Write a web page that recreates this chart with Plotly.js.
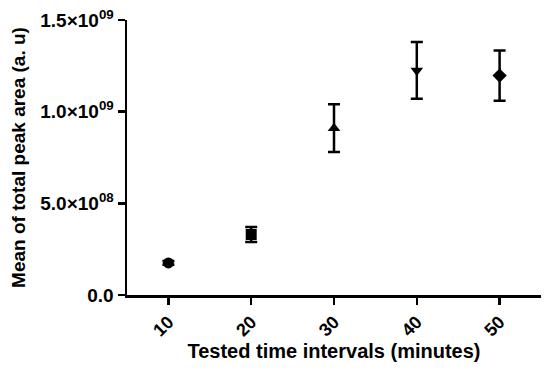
<!DOCTYPE html>
<html>
<head>
<meta charset="utf-8">
<script src="https://cdn.plot.ly/plotly-3.0.1.min.js"></script>
<style>html,body{margin:0;padding:0;background:#fff;}#chart{width:550px;height:371px;}</style>
</head>
<body>
<div id="chart"></div>
<script>
const intervals = [10, 20, 30, 40, 50];
const meanArea = [1.75e8, 3.3e8, 9.1e8, 1.225e9, 1.197e9];
const errArea = [1.0e7, 4.1e7, 1.3e8, 1.55e8, 1.37e8];
const symbols = ['circle', 'square', 'triangle-up', 'triangle-down', 'diamond'];
const yTickVals = [0, 5e8, 1e9, 1.5e9];
const yTickText = ['0.0', '5.0×10<sup>08</sup>', '1.0×10<sup>09</sup>', '1.5×10<sup>09</sup>'];
const xTickVals = [10, 20, 30, 40, 50];

const font = 'Liberation Sans, Arial, sans-serif';
const trace = {
  x: intervals, y: meanArea, type: 'scatter', mode: 'markers',
  marker: {symbol: symbols, size: 11, color: '#000'},
  error_y: {type: 'data', array: errArea, visible: true, color: '#000', thickness: 2.5, width: 6},
  showlegend: false
};
const layout = {
  width: 550, height: 371,
  margin: {l: 127, r: 9, t: 20, b: 76},
  paper_bgcolor: '#fff', plot_bgcolor: '#fff',
  font: {family: font, color: '#000'},
  xaxis: {
    range: [5, 55], tickvals: xTickVals, ticktext: xTickVals.map(String),
    tickangle: -45, ticks: 'outside', ticklen: 7, tickwidth: 2.5, tickcolor: '#000',
    showline: true, linecolor: '#000', linewidth: 2.5, showgrid: false, zeroline: false,
    tickfont: {size: 18, weight: 'bold', family: font},
    title: {text: 'Tested time intervals (minutes)', font: {size: 20, weight: 'bold', family: font}, standoff: 4},
    automargin: false
  },
  yaxis: {
    range: [0, 1.5e9], tickvals: yTickVals, ticktext: yTickText,
    ticks: 'outside', ticklen: 7, tickwidth: 2.5, tickcolor: '#000',
    showline: true, linecolor: '#000', linewidth: 2.5, showgrid: false, zeroline: false,
    tickfont: {size: 19, weight: 'bold', family: font},
    title: {text: 'Mean of total peak area (a. u)', font: {size: 19, weight: 'bold', family: font}, standoff: 10},
    automargin: false
  }
};
Plotly.newPlot('chart', [trace], layout, {displayModeBar: false, staticPlot: true});
</script>
</body>
</html>
